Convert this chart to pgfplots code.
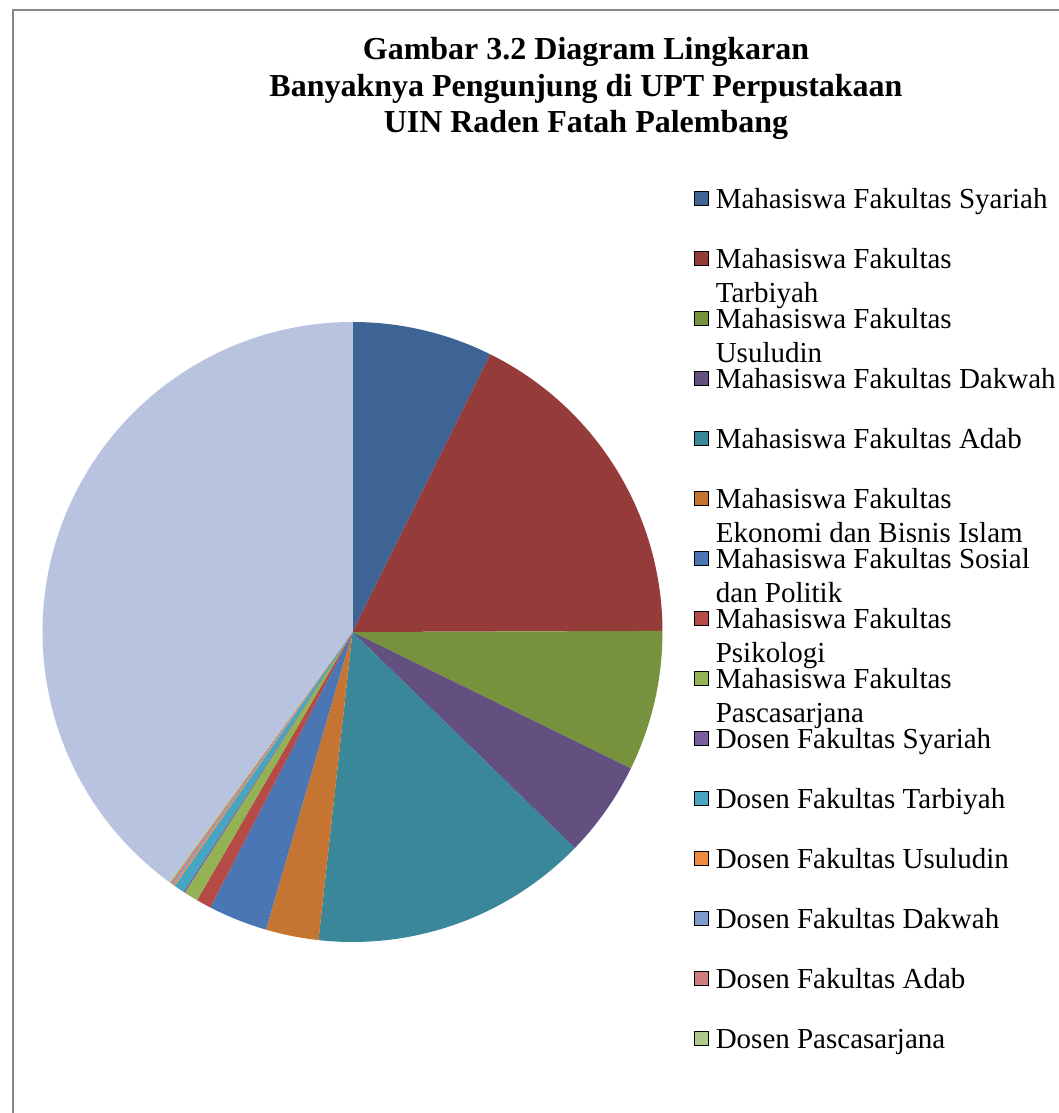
\documentclass[border=0pt]{standalone}
\usepackage{pgfplots}
\pgfplotsset{compat=1.18}
\usepackage{pgfplotstable}
\usepackage{fontspec}
\setmainfont{Liberation Serif}

\definecolor{pc0}{HTML}{3D6495}
\definecolor{pc1}{HTML}{953B39}
\definecolor{pc2}{HTML}{77923C}
\definecolor{pc3}{HTML}{634F80}
\definecolor{pc4}{HTML}{3A8799}
\definecolor{pc5}{HTML}{C57431}
\definecolor{pc6}{HTML}{4A77B3}
\definecolor{pc7}{HTML}{B64A47}
\definecolor{pc8}{HTML}{93B254}
\definecolor{pc9}{HTML}{7B5EA0}
\definecolor{pc10}{HTML}{46A5C1}
\definecolor{pc11}{HTML}{EE8B3F}
\definecolor{pc12}{HTML}{7E9BCB}
\definecolor{pc13}{HTML}{CD7E7C}
\definecolor{pc14}{HTML}{AFC98A}
\definecolor{pc15}{HTML}{B8C4DF}
\definecolor{framegray}{HTML}{888888}

% slice sizes (share of the circle)
\pgfplotstableread{
idx value
0 26.4
1 63.4
2 26.3
3 18.1
4 52.1
5 9.9
6 11.1
7 2.8
8 2.65
9 0.3
10 1.95
11 0.3
12 0.3
13 0.4
14 0.3
15 143.7
}\piedata

\newcommand\computeangles{%
  \gdef\piecum{0}%
  \foreach \i in {0,...,15}{%
    \pgfplotstablegetelem{\i}{value}\of\piedata
    \pgfmathsetmacro\tmp{\piecum+\pgfplotsretval}%
    \global\let\piecum\tmp
  }%
  \pgfmathsetmacro\piefac{360/\piecum}%
  \global\let\piefac\piefac
  \gdef\piecum{0}%
  \foreach \i in {0,...,15}{%
    \pgfplotstablegetelem{\i}{value}\of\piedata
    \pgfmathsetmacro\a{90-\piecum*\piefac}%
    \pgfmathsetmacro\tmp{\piecum+\pgfplotsretval}%
    \global\let\piecum\tmp
    \pgfmathsetmacro\b{90-\piecum*\piefac}%
    \expandafter\xdef\csname pieA\i\endcsname{\a}%
    \expandafter\xdef\csname pieB\i\endcsname{\b}%
  }%
}
\computeangles

\newcommand\LE[1]{\raisebox{0pt}[10pt][2pt]{\begin{tabular}[t]{@{}l@{}}#1\end{tabular}}}

\begin{document}
\begin{tikzpicture}[x=0.5pt,y=0.5pt]
\useasboundingbox (0,0) rectangle (1059,1113);
\draw[framegray, line width=1.25pt] (13,-10) -- (13,1103) -- (1075,1103);
\coordinate (piecenter) at (352.5,481);
\node[anchor=base, inner sep=0pt, font=\fontsize{16pt}{18.25pt}\selectfont\bfseries] at (586,1053)
  {\begin{tabular}[t]{@{}c@{}}Gambar 3.2 Diagram Lingkaran\\Banyaknya Pengunjung di UPT Perpustakaan\\UIN Raden Fatah Palembang\end{tabular}};
\begin{axis}[
  at={(piecenter)}, anchor=center,
  width=310pt, height=310pt, scale only axis,
  xmin=-1, xmax=1, ymin=-1, ymax=1,
  hide axis, clip=false,
  legend image code/.code={\fill[#1] (0pt,-2.9pt) rectangle (7pt,4.1pt);},
  legend cell align=left,
  legend style={at={(1.0508,1.2161)}, anchor=north west, draw=none, fill=none,
    inner sep=0pt, outer sep=0pt, row sep=18.5pt, column sep=3.5pt,
    nodes={inner sep=0pt},
    font=\fontsize{14.5pt}{17.3pt}\selectfont},
]
\pgfplotsinvokeforeach{0,...,15}{
  \fill[pc#1] (axis cs:0,0) -- (axis cs:{cos(\csname pieA#1\endcsname)},{sin(\csname pieA#1\endcsname)})
    arc[start angle=\csname pieA#1\endcsname, end angle=\csname pieB#1\endcsname, radius=155pt] -- cycle;
}
\addlegendimage{fill=pc0}\addlegendentry{\LE{Mahasiswa Fakultas Syariah}}
\addlegendimage{fill=pc1}\addlegendentry{\LE{Mahasiswa Fakultas\\Tarbiyah}}
\addlegendimage{fill=pc2}\addlegendentry{\LE{Mahasiswa Fakultas\\Usuludin}}
\addlegendimage{fill=pc3}\addlegendentry{\LE{Mahasiswa Fakultas Dakwah}}
\addlegendimage{fill=pc4}\addlegendentry{\LE{Mahasiswa Fakultas Adab}}
\addlegendimage{fill=pc5}\addlegendentry{\LE{Mahasiswa Fakultas\\Ekonomi dan Bisnis Islam}}
\addlegendimage{fill=pc6}\addlegendentry{\LE{Mahasiswa Fakultas Sosial\\dan Politik}}
\addlegendimage{fill=pc7}\addlegendentry{\LE{Mahasiswa Fakultas\\Psikologi}}
\addlegendimage{fill=pc8}\addlegendentry{\LE{Mahasiswa Fakultas\\Pascasarjana}}
\addlegendimage{fill=pc9}\addlegendentry{\LE{Dosen Fakultas Syariah}}
\addlegendimage{fill=pc10}\addlegendentry{\LE{Dosen Fakultas Tarbiyah}}
\addlegendimage{fill=pc11}\addlegendentry{\LE{Dosen Fakultas Usuludin}}
\addlegendimage{fill=pc12}\addlegendentry{\LE{Dosen Fakultas Dakwah}}
\addlegendimage{fill=pc13}\addlegendentry{\LE{Dosen Fakultas Adab}}
\addlegendimage{fill=pc14}\addlegendentry{\LE{Dosen Pascasarjana}}
\end{axis}
\end{tikzpicture}
\end{document}
